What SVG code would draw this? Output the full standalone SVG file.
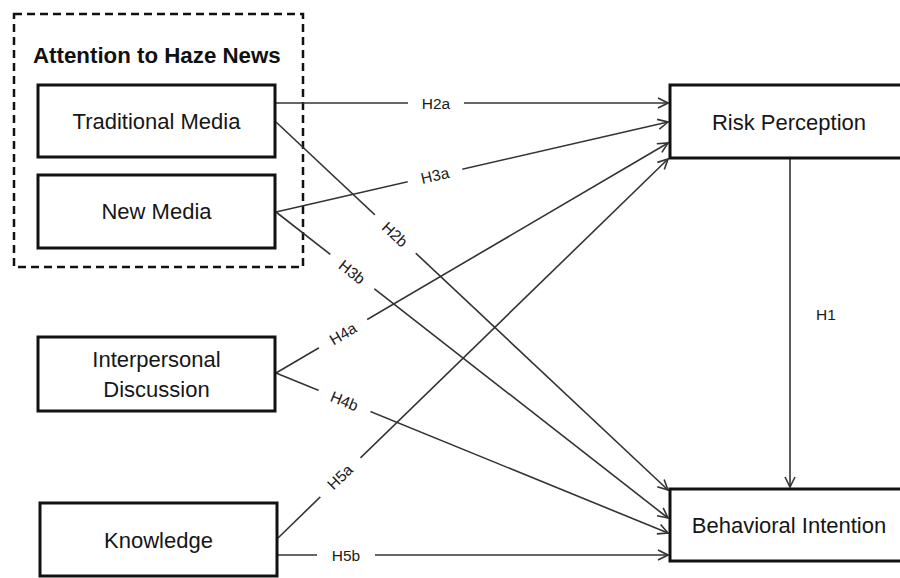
<svg xmlns="http://www.w3.org/2000/svg" width="900" height="578" viewBox="0 0 900 578">
<defs>
<style>
.box{fill:#fff;stroke:#111;stroke-width:3}
.nt{font-family:"Liberation Sans",Arial,sans-serif;font-size:22px;fill:#161616;text-anchor:middle}
.title{font-family:"Liberation Sans",Arial,sans-serif;font-size:22.3px;font-weight:bold;fill:#111}
.ln{stroke:#333;stroke-width:1.6;fill:none;marker-end:url(#arr)}
.lb{font-family:"Liberation Sans",Arial,sans-serif;font-size:15.5px;fill:#1a1a1a;text-anchor:middle}
.bg{fill:#fff}
</style>
<marker id="arr" viewBox="0 0 12 12" refX="11" refY="6" markerWidth="12" markerHeight="12" markerUnits="userSpaceOnUse" orient="auto">
<path d="M1,1 L11,6 L1,11" fill="none" stroke="#333" stroke-width="1.6"/>
</marker>
</defs>
<rect width="900" height="578" fill="#fff"/>

<g id="group-attention">
<rect x="14" y="14" width="289" height="253" fill="none" stroke="#111" stroke-width="2.5" stroke-dasharray="8,5"/>
<text class="title" x="33" y="63">Attention to Haze News</text>
</g>

<g id="connectors">
<line class="ln" x1="276" y1="103" x2="668" y2="103"/>
<line class="ln" x1="276" y1="122" x2="668" y2="490"/>
<line class="ln" x1="276" y1="212" x2="668" y2="122"/>
<line class="ln" x1="276" y1="212" x2="668" y2="518"/>
<line class="ln" x1="276" y1="373" x2="668" y2="143"/>
<line class="ln" x1="276" y1="373" x2="668" y2="533"/>
<line class="ln" x1="278" y1="538" x2="668" y2="159"/>
<line class="ln" x1="278" y1="555" x2="668" y2="555"/>
<line class="ln" x1="790" y1="158" x2="790" y2="487"/>

<g transform="translate(436,103)"><rect class="bg" x="-28" y="-9" width="56" height="18"/><text class="lb" y="5.5">H2a</text></g>
<g transform="translate(435,175.5) rotate(-12.9)"><rect class="bg" x="-28" y="-9" width="56" height="18"/><text class="lb" y="5.5">H3a</text></g>
<g transform="translate(395,234.4) rotate(43.1)"><rect class="bg" x="-28" y="-9" width="56" height="18"/><text class="lb" y="5.5">H2b</text></g>
<g transform="translate(352,272) rotate(37.9)"><rect class="bg" x="-28" y="-9" width="56" height="18"/><text class="lb" y="5.5">H3b</text></g>
<g transform="translate(343,333.7) rotate(-30.4)"><rect class="bg" x="-28" y="-9" width="56" height="18"/><text class="lb" y="5.5">H4a</text></g>
<g transform="translate(344.5,401) rotate(22.2)"><rect class="bg" x="-28" y="-9" width="56" height="18"/><text class="lb" y="5.5">H4b</text></g>
<g transform="translate(340,477) rotate(-44)"><rect class="bg" x="-28" y="-9" width="56" height="18"/><text class="lb" y="5.5">H5a</text></g>
<g transform="translate(346,555)"><rect class="bg" x="-29" y="-9" width="58" height="18"/><text class="lb" y="5.5">H5b</text></g>
<text class="lb" x="826" y="320">H1</text>
</g>

<g id="node-traditional-media">
<rect class="box" x="38" y="85" width="237" height="72"/>
<text class="nt" x="156.5" y="129">Traditional Media</text>
</g>
<g id="node-new-media">
<rect class="box" x="38" y="175" width="237" height="73"/>
<text class="nt" x="156.5" y="219">New Media</text>
</g>
<g id="node-interpersonal-discussion">
<rect class="box" x="38" y="337" width="237" height="74"/>
<text class="nt" x="156.5" y="367">Interpersonal</text>
<text class="nt" x="156.5" y="397">Discussion</text>
</g>
<g id="node-knowledge">
<rect class="box" x="40" y="503" width="237" height="73"/>
<text class="nt" x="158.5" y="548">Knowledge</text>
</g>
<g id="node-risk-perception">
<rect class="box" x="670" y="85" width="240" height="73"/>
<text class="nt" x="789" y="130">Risk Perception</text>
</g>
<g id="node-behavioral-intention">
<rect class="box" x="670" y="489" width="240" height="72"/>
<text class="nt" x="789" y="533">Behavioral Intention</text>
</g>
</svg>
